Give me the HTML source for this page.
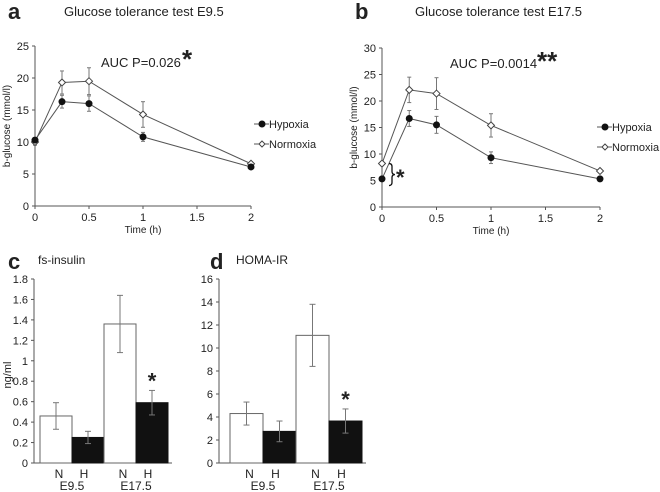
<!DOCTYPE html>
<html><head><meta charset="utf-8"><style>
body{margin:0;background:#fff}
svg{display:block;font-family:"Liberation Sans",Arial,sans-serif}
text{fill:#222}
</style></head><body>
<svg id="fig" width="660" height="492"></svg>
<script>
const times=[0,0.25,0.5,1,2];
const aHyp=[10.3,16.3,16.0,10.8,6.1];
const aHypErr=[0.4,1.0,1.2,0.7,0.3];
const aNor=[10.0,19.3,19.5,14.3,6.6];
const aNorErr=[0.5,1.8,2.1,2.0,0.3];
const bHyp=[5.3,16.7,15.5,9.3,5.3];
const bHypErr=[0.3,1.5,1.6,1.1,0.3];
const bNor=[8.2,22.1,21.4,15.4,6.8];
const bNorErr=[0.4,2.4,3.0,2.2,0.3];
const barCats=["N","H","N","H"];
const groupLabels=["E9.5","E17.5"];
const cVals=[0.46,0.25,1.36,0.59];
const cErr=[0.13,0.06,0.28,0.12];
const dVals=[4.3,2.75,11.1,3.65];
const dErr=[1.0,0.9,2.7,1.05];
const aTicks=[0,5,10,15,20,25];
const bTicks=[0,5,10,15,20,25,30];
const xTicks=[0,0.5,1,1.5,2];
const cTicks=[0,0.2,0.4,0.6,0.8,1,1.2,1.4,1.6,1.8];
const dTicks=[0,2,4,6,8,10,12,14,16];

const svg=document.getElementById('fig');
const NS='http://www.w3.org/2000/svg';
function el(tag,attrs,parent){const e=document.createElementNS(NS,tag);for(const k in attrs)e.setAttribute(k,attrs[k]);(parent||svg).appendChild(e);return e;}
function txt(s,attrs,parent){const e=el('text',attrs,parent);e.textContent=s;return e;}

function lineChart(name,ox,x2,y0,yTop,ymax,ticks,hyp,hypE,nor,norE,legX,legY){
  const g=el('g',{});
  
  
  const X=t=>ox+(x2-ox)*t/2, Y=v=>y0-(y0-yTop)*v/ymax;
  el('line',{x1:ox,y1:yTop,x2:ox,y2:y0,stroke:'#555'},g);
  el('line',{x1:ox,y1:y0,x2:x2,y2:y0,stroke:'#555'},g);
  ticks.forEach(v=>{el('line',{x1:ox-3,x2:ox,y1:Y(v),y2:Y(v),stroke:'#555'},g);
    const t=txt(String(v),{x:ox-6,y:Y(v)+4,'font-size':11,'text-anchor':'end'},g);
    });
  xTicks.forEach(v=>{el('line',{x1:X(v),x2:X(v),y1:y0,y2:y0+3,stroke:'#555'},g);
    const t=txt(String(v),{x:X(v),y:y0+15,'font-size':11,'text-anchor':'middle'},g);
    });
  const xt=txt('Time (h)',{x:(ox+x2)/2,y:y0+27,'font-size':10,'text-anchor':'middle'},g);
  
  const yt=txt('b-glucose (mmol/l)',{x:0,y:0,'font-size':10,'text-anchor':'middle',transform:`translate(${ox-25},${(y0+yTop)/2}) rotate(-90)`},g);
  
  [[nor,norE,'#fff','normoxia'],[hyp,hypE,'#111','hypoxia']].forEach(([vals,err,fill,nm])=>{
    vals.forEach((v,i)=>{el('line',{x1:X(times[i]),x2:X(times[i]),y1:Y(v-err[i]),y2:Y(v+err[i]),stroke:'#777'},g);
      el('line',{x1:X(times[i])-2,x2:X(times[i])+2,y1:Y(v+err[i]),y2:Y(v+err[i]),stroke:'#777'},g);
      el('line',{x1:X(times[i])-2,x2:X(times[i])+2,y1:Y(v-err[i]),y2:Y(v-err[i]),stroke:'#777'},g);});
    el('polyline',{points:vals.map((v,i)=>X(times[i])+','+Y(v)).join(' '),fill:'none',stroke:'#555'},g);
    vals.forEach((v,i)=>{let m;
      if(fill==='#fff') m=el('path',{d:`M${X(times[i])} ${Y(v)-3.5}l3.5 3.5l-3.5 3.5l-3.5 -3.5z`,fill:'#fff',stroke:'#444'},g);
      else m=el('circle',{cx:X(times[i]),cy:Y(v),r:3.5,fill:'#111'},g);
      });
  });
  const l1=el('g',{},g);
  el('line',{x1:legX,x2:legX+15,y1:legY,y2:legY,stroke:'#555'},l1);
  el('circle',{cx:legX+8,cy:legY,r:3.5,fill:'#111'},l1);
  txt('Hypoxia',{x:legX+15,y:legY+4,'font-size':11},l1);
  const l2=el('g',{},g);
  el('line',{x1:legX,x2:legX+15,y1:legY+20,y2:legY+20,stroke:'#555'},l2);
  el('path',{d:`M${legX+8} ${legY+17}l3 3l-3 3l-3 -3z`,fill:'#fff',stroke:'#444'},l2);
  txt('Normoxia',{x:legX+15,y:legY+24,'font-size':11},l2);
  return {X,Y,g};
}

function barChart(name,ox,y0,yTop,ymax,ticks,fmt,vals,err,barX,w,star){
  const g=el('g',{});
  
  
  const Y=v=>y0-(y0-yTop)*v/ymax;
  el('line',{x1:ox,y1:yTop,x2:ox,y2:y0,stroke:'#555'},g);
  el('line',{x1:ox,y1:y0,x2:barX+4*w+4,y2:y0,stroke:'#555'},g);
  ticks.forEach(v=>{el('line',{x1:ox-3,x2:ox,y1:Y(v),y2:Y(v),stroke:'#555'},g);
    const t=txt(fmt(v),{x:ox-6,y:Y(v)+4,'font-size':11,'text-anchor':'end'},g);
    });
  vals.forEach((v,i)=>{const x=barX+i*w;
    const r=el('rect',{x:x,y:Y(v),width:w,height:y0-Y(v),fill:i%2?'#111':'#fff',stroke:i%2?'#111':'#666'},g);
    
    const cx=x+w/2;
    el('line',{x1:cx,x2:cx,y1:Y(v+err[i]),y2:Y(v-err[i]),stroke:'#777'},g);
    el('line',{x1:cx-3,x2:cx+3,y1:Y(v+err[i]),y2:Y(v+err[i]),stroke:'#777'},g);
    el('line',{x1:cx-3,x2:cx+3,y1:Y(v-err[i]),y2:Y(v-err[i]),stroke:'#777'},g);
    const t=txt(barCats[i],{x:cx-(i%2?4:-3),y:y0+15,'font-size':12,'text-anchor':'middle'},g);
    
    if(i===3&&star){const s=txt('*',{x:cx,y:Y(v+err[i])-2,'font-size':22,'font-weight':'bold','text-anchor':'middle'},g);
      }
  });
  groupLabels.forEach((gl,j)=>{const t=txt(gl,{x:barX+(2*j+1)*w,y:y0+27,'font-size':12,'text-anchor':'middle'},g);
    });
  return g;
}

let t;
t=txt('a',{x:8,y:19,'font-size':22,'font-weight':'bold'});
t=txt('Glucose tolerance test E9.5',{x:64,y:16,'font-size':13});
lineChart('chart-a',35,251,206,46,25,aTicks,aHyp,aHypErr,aNor,aNorErr,254,124);
t=txt('AUC P=0.026',{x:101,y:67,'font-size':13});
t=txt('*',{x:182,y:68,'font-size':26,'font-weight':'bold'});

t=txt('b',{x:355,y:19,'font-size':22,'font-weight':'bold'});
t=txt('Glucose tolerance test E17.5',{x:415,y:16,'font-size':13});
const B=lineChart('chart-b',382,600,207,48,30,bTicks,bHyp,bHypErr,bNor,bNorErr,597,127);
t=txt('AUC P=0.0014',{x:450,y:68,'font-size':13});
t=txt('**',{x:537,y:70,'font-size':26,'font-weight':'bold'});
el('path',{d:`M389 ${B.Y(bNor[0])} q3 0 3 3 v5 q0 3 3 3 q-3 0 -3 3 v5 q0 3 -3 3`,fill:'none',stroke:'#111','stroke-width':1.3});
t=txt('*',{x:396,y:185,'font-size':22,'font-weight':'bold'});

t=txt('c',{x:8,y:269,'font-size':22,'font-weight':'bold'});
t=txt('fs-insulin',{x:38,y:264,'font-size':12});
barChart('chart-c',34,463,279,1.8,cTicks,v=>String(Math.round(v*10)/10),cVals,cErr,40,32,true);
t=txt('ng/ml',{x:0,y:0,'font-size':11,'text-anchor':'middle',transform:'translate(11,375) rotate(-90)'});

t=txt('d',{x:210,y:269,'font-size':22,'font-weight':'bold'});
t=txt('HOMA-IR',{x:236,y:264,'font-size':12});
barChart('chart-d',219,463,279,16,dTicks,v=>String(v),dVals,dErr,230,33,true);
</script>
</body></html>
